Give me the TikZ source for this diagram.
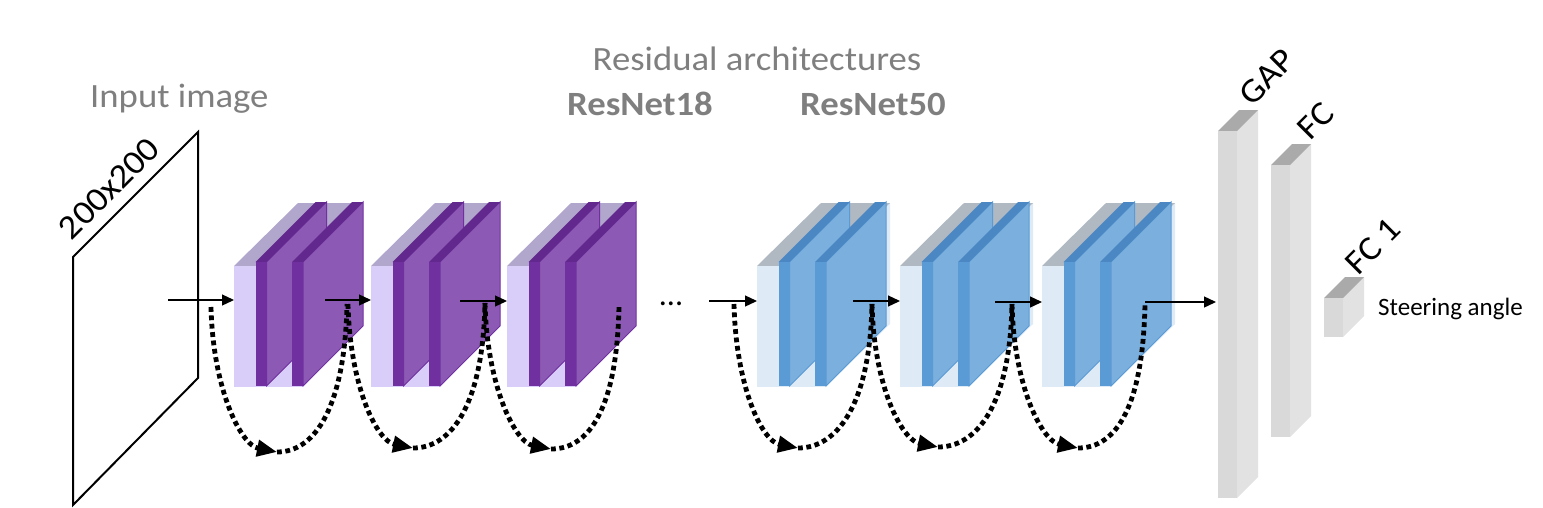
\documentclass[tikz,border=0pt]{standalone}
\usepackage{fontspec}
\setmainfont{Carlito}
\usetikzlibrary{arrows.meta,calc}
\definecolor{txtgray}{RGB}{127,127,127}
\definecolor{pLight}{RGB}{217,206,250}
\definecolor{pLightTop}{RGB}{177,166,204}
\definecolor{pDark}{RGB}{112,48,160}
\definecolor{pSide}{RGB}{140,90,181}
\definecolor{pTop}{RGB}{98,40,142}
\definecolor{bLight}{RGB}{222,235,247}
\definecolor{bLightTop}{RGB}{176,184,194}
\definecolor{bDark}{RGB}{91,155,213}
\definecolor{bSide}{RGB}{122,175,222}
\definecolor{bTop}{RGB}{74,135,195}
\definecolor{gFront}{RGB}{217,217,217}
\definecolor{gSide}{RGB}{226,226,226}
\definecolor{gTop}{RGB}{170,170,170}
\newcommand{\wdx}[1]{\scalebox{1.08}[1]{#1}}
\newcommand{\bigfont}{\fontsize{34}{40}\selectfont}
\newcommand{\plateshape}[4]{%
  \filldraw[fill=#3,draw=#2,line width=1pt] ({#1+11},262) -- ({#1+71},202) -- ({#1+71},326) -- ({#1+11},386) -- cycle;
  \fill[#4] (#1,262) -- ({#1+11},262) -- ({#1+71},202) -- ({#1+60},202) -- cycle;
  \fill[#2] (#1,262) rectangle ({#1+11},386);
}
% #7: how far the light back box reaches beyond the plates
\newcommand{\resblock}[7]{%
  \fill[#2] ({#1+69},266) -- ({#1+129+#7},203) -- ({#1+129+#7},324) -- ({#1+69},387) -- cycle;
  \fill[#3] (#1,266) -- ({#1+69},266) -- ({#1+129+#7},203) -- ({#1+64},203) -- cycle;
  \fill[#2] (#1,266) rectangle ({#1+69},387);
  \plateshape{#1+21.5}{#4}{#5}{#6}
  \plateshape{#1+58}{#4}{#5}{#6}
}
\newcommand{\graybar}[3]{%
  \fill[gSide] ({#1+19},#2) -- ({#1+40},{#2-21}) -- ({#1+40},{#3-21}) -- ({#1+19},#3) -- cycle;
  \fill[gTop] (#1,#2) -- ({#1+19},#2) -- ({#1+40},{#2-21}) -- ({#1+21},{#2-21}) -- cycle;
  \fill[gFront] (#1,#2) rectangle ({#1+19},#3);
}
\tikzset{
  flow/.style={line width=1.3pt,-{Triangle[length=12pt,width=11pt]}},
  skip/.style={line width=4.8pt,dash pattern=on 4.8pt off 3.6pt},
  skiptip/.style={skip,-{Triangle[length=20pt,width=16pt]}},
  graytxt/.style={text=txtgray,inner sep=0pt,font=\bigfont},
  rottxt/.style={inner sep=0pt,font=\bigfont,rotate=45},
}
\newcommand{\skiparc}[4]{%
  \coordinate (#4s) at #1;
  \coordinate (#4t) at #2;
  \coordinate (#4e) at #3;
  \draw[skiptip] (#4s) .. controls ($(#4s)+(2,83)$) and ($(#4t)+(-36,-7)$) .. (#4t);
  \draw[skip] (#4t) .. controls ($(#4t)+(39,0)$) and ($(#4e)+(-2,101)$) .. (#4e);
}
\begin{document}
\begin{tikzpicture}[x=1pt,y=-1pt]
\useasboundingbox (0,0) rectangle (1543,507);
\draw[line width=2pt] (73,257) -- (198,132) -- (198,378) -- (73,505) -- cycle;
\node[rottxt,anchor=base] (dim) at (117,196) {\wdx{200x200}};
\node[graytxt,anchor=base west] (inlbl) at (90,107) {\wdx{Input image}};
\node[graytxt,anchor=base] (reslbl) at (757,70) {\wdx{Residual architectures}};
\node[graytxt,anchor=base,font=\bigfont\bfseries] (r18) at (640,115) {\wdx{ResNet18}};
\node[graytxt,anchor=base,font=\bigfont\bfseries] (r50) at (873,115) {\wdx{ResNet50}};
\resblock{234}{pLight}{pLightTop}{pDark}{pSide}{pTop}{0}
\resblock{371}{pLight}{pLightTop}{pDark}{pSide}{pTop}{0}
\resblock{507}{pLight}{pLightTop}{pDark}{pSide}{pTop}{0}
\resblock{757}{bLight}{bLightTop}{bDark}{bSide}{bTop}{4}
\resblock{900}{bLight}{bLightTop}{bDark}{bSide}{bTop}{4}
\resblock{1042}{bLight}{bLightTop}{bDark}{bSide}{bTop}{4}
\graybar{1218}{131}{498}
\graybar{1271}{165}{437}
\graybar{1324}{298}{337}
\node[rottxt] (gap) at (1267,77) {\wdx{GAP}};
\node[rottxt] (fc) at (1316,121) {\wdx{FC}};
\node[rottxt] (fc1) at (1373,246) {\wdx{FC 1}};
\node[inner sep=0pt,anchor=base west,font=\fontsize{25}{30}\selectfont] (steer) at (1378,315) {Steering angle};
\node[inner sep=0pt,anchor=base,font=\fontsize{32}{36}\selectfont] (dots) at (671,305) {...};
\coordinate (a1s) at (168,300); \coordinate (a1e) at (234,300);
\coordinate (a2s) at (325,300); \coordinate (a2e) at (371,300);
\coordinate (a3s) at (460,301); \coordinate (a3e) at (507,301);
\coordinate (a4s) at (709,301); \coordinate (a4e) at (757,301);
\coordinate (a5s) at (853,301); \coordinate (a5e) at (900,301);
\coordinate (a6s) at (995,302); \coordinate (a6e) at (1042,302);
\coordinate (a7s) at (1145,302); \coordinate (a7e) at (1216,302);
\foreach \i in {1,...,7} {\draw[flow] (a\i s) -- (a\i e);}
\skiparc{(211,307)}{(277,452)}{(347,304)}{u1}
\skiparc{(348,304)}{(413,448)}{(485,303)}{u2}
\skiparc{(485,303)}{(551,449)}{(619,306)}{u3}
\skiparc{(734,304)}{(798,448)}{(872,304)}{u4}
\skiparc{(872,304)}{(938,447)}{(1012,304)}{u5}
\skiparc{(1012,304)}{(1078,448)}{(1145,304)}{u6}
\end{tikzpicture}
\end{document}
